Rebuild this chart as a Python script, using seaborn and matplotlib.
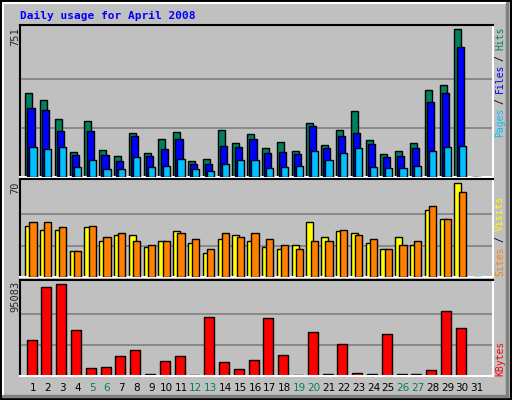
import matplotlib
matplotlib.use("Agg")
import matplotlib.pyplot as plt
from matplotlib.lines import Line2D
import seaborn as sns
import numpy as np

days = list(range(1, 32))
hits = [425,394,297,129,287,139,109,226,124,195,231,83,93,241,175,221,150,180,134,277,165,241,338,190,119,134,175,440,466,751,0]
files = [353,343,236,114,236,114,83,206,109,144,195,68,68,160,155,195,124,129,119,257,150,211,226,170,104,109,150,379,425,659,0]
pages = [155,144,155,53,88,42,42,104,53,58,93,42,32,68,88,88,48,53,58,134,88,124,150,53,48,48,58,134,155,160,0]
visits = [38,35,35,19,37,27,31,31,22,27,34,25,18,28,31,27,22,21,24,41,30,34,33,25,21,30,24,50,43,70,0]
sites = [41,41,37,19,38,30,33,27,24,27,33,28,21,33,30,33,28,24,21,27,27,35,31,28,21,24,27,53,43,63,0]
kbytes = [36570,91950,95083,47020,8360,9400,20900,27170,2090,15670,20900,1045,60600,14630,7310,16720,59560,21940,1045,44930,2090,33440,3135,2090,42840,2090,2090,6270,66870,49110,0]
weekends = [5, 6, 12, 13, 19, 20, 26, 27]
title = "Daily usage for April 2008"

sns.set_style("white")
BG = "#C0C0C0"
W, H = 512, 400
fig = plt.figure(figsize=(5.12, 4.0), dpi=100, facecolor=BG)

def fx(px): return px / W
def fy(py): return 1 - py / H

def mkax(top, bottom):
    ax = fig.add_axes([fx(20), fy(bottom), fx(493) - fx(20), (bottom - top) / H])
    ax.set_facecolor(BG)
    ax.set_xlim(0.12, 32.08)
    ax.set_xticks([]); ax.set_yticks([])
    ax.spines['left'].set_color('black'); ax.spines['top'].set_color('black')
    ax.spines['right'].set_color('white'); ax.spines['bottom'].set_color('white')
    for s in ax.spines.values():
        s.set_linewidth(1.5)
    return ax

x = np.array(days, dtype=float)
ek = dict(edgecolor='black', linewidth=1.0)

ax1 = mkax(25, 177)
ax1.set_ylim(0, 773)
for g in (751/3, 751*2/3):
    ax1.axhline(g, color='#808080', lw=1.2, zorder=0)
ax1.bar(x - 0.29, hits, width=0.48, color='#00805C', **ek, zorder=2)
ax1.bar(x - 0.14, files, width=0.48, color='#0000FF', **ek, zorder=3)
ax1.bar(x, pages, width=0.48, color='#00C0FF', **ek, zorder=4)

ax2 = mkax(179, 277)
ax2.set_ylim(0, 73)
for g in (70/3, 140/3):
    ax2.axhline(g, color='#808080', lw=1.2, zorder=0)
ax2.bar(x - 0.29, visits, width=0.48, color='#FFFF00', **ek, zorder=2)
ax2.bar(x, sites, width=0.48, color='#FF8000', **ek, zorder=3)

ax3 = mkax(280, 376)
ax3.set_ylim(0, 98850)
for g in (95083/3, 95083*2/3):
    ax3.axhline(g, color='#808080', lw=1.2, zorder=0)
ax3.bar(x - 0.1, kbytes, width=0.68, color='#FF0000', **ek, zorder=2)

for d in days:
    px = 20 + (d - 0.12) / (32.08 - 0.12) * 473
    fig.text(fx(px), fy(388), str(d), ha='center', va='center', fontsize=7.5,
             color='#00805C' if d in weekends else 'black', family='DejaVu Sans')

fig.text(fx(20), fy(16), title, ha='left', va='center', fontsize=8, color='#0000FF',
         family='DejaVu Sans Mono', weight='bold')

mono = dict(family='DejaVu Sans Mono', fontsize=7, rotation=90, ha='center', va='bottom')
for lbl, top in (("751", 27), ("70", 181), ("95083", 281)):
    fig.text(fx(15), fy(top), lbl, ha='center', va='top', rotation=90, fontsize=7.5, family='DejaVu Sans Mono')

def vlabel(parts, start, step):
    i = 0
    for txt, col in parts:
        if txt == "/":
            fig.text(fx(500), fy(start - (i + 1) * step), "/", color='black', **mono)
            i += 3
        else:
            fig.text(fx(500), fy(start - i * step), txt, color=col, **mono)
            i += len(txt)

vlabel([("Pages", '#00C0FF'), ("/", None), ("Files", '#0000FF'), ("/", None), ("Hits", '#00805C')], 137, 5.45)
vlabel([("Sites", '#FF8000'), ("/", None), ("Visits", '#FFFF00')], 276, 5.6)
vlabel([("KBytes", '#FF0000')], 376, 5.8)

def line(x0, y0, x1, y1, c, lw=1.5):
    fig.add_artist(Line2D([fx(x0), fx(x1)], [fy(y0), fy(y1)], color=c, lw=lw, transform=fig.transFigure))
line(1, 1, 511, 1, 'black'); line(1, 1, 1, 399, 'black')
line(1, 399, 511, 399, 'black'); line(511, 1, 511, 399, 'black')
line(3, 3, 507, 3, 'white'); line(3, 3, 3, 396, 'white')
line(3, 396, 507, 396, '#808080', 2.5); line(507, 3, 507, 396, '#808080', 2.5)

fig.savefig("out.png", dpi=100, facecolor=BG)
